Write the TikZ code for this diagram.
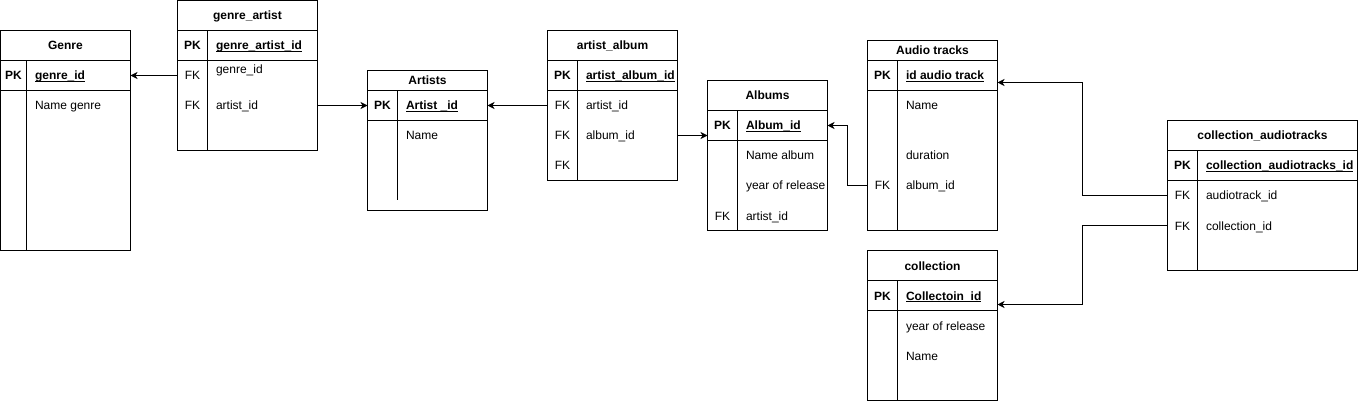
\documentclass[tikz,border=0pt]{standalone}
\usepackage{fontspec}
\setmainfont{Liberation Sans}
\usetikzlibrary{arrows.meta, positioning, calc}
\newcommand{\keyname}[1]{\setbox0\hbox{\bfseries #1}\rlap{\rule[-1.8pt]{\wd0}{0.9pt}}\box0}
\tikzset{
    tbl/.style 2 args={rectangle, draw=black, line width=1pt, anchor=north west, inner sep=0pt, outer sep=0pt, minimum width=#1, minimum height=#2},
    ttl/.style={font=\fontsize{12}{14}\selectfont\bfseries, inner sep=0pt, text height=9pt, text depth=0pt},
    kcol/.style={font=\fontsize{12}{14}\selectfont, inner sep=0pt, text height=9pt, text depth=0pt},
    fld/.style={font=\fontsize{12}{14}\selectfont, anchor=west, inner sep=0pt, text height=9pt, text depth=0pt},
    rel/.style={-{Stealth[length=7pt, width=7pt, inset=2pt]}, line width=1pt},
}
\begin{document}
\begin{tikzpicture}[x=1pt, y=-1pt, line width=1pt]
    \useasboundingbox (-0.5,-0.5) rectangle (1357.5,400.5);

    % Genre
    \node[tbl={130pt}{220pt}] (genre) at (0,30) {};
    \draw (0,60) -- (130,60) (0,90) -- (130,90) (26,60) -- (26,250);
    \node[ttl] (genre-t) at (65,45) {Genre};
    \node[kcol, font=\fontsize{12}{14}\selectfont\bfseries] (gpk) at (13,75) {PK};
    \node[fld] (gid) at (34,75) {\keyname{genre\_id}};
    \node[fld] (gname) at (34,105) {Name genre};

    % genre_artist
    \node[tbl={140pt}{150pt}] (ga) at (177,0) {};
    \draw (177,30) -- (317,30) (177,60) -- (317,60) (207,30) -- (207,150);
    \node[ttl] (ga-t) at (247,15) {genre\_artist};
    \node[kcol, font=\fontsize{12}{14}\selectfont\bfseries] (gapk) at (192,45) {PK};
    \node[fld] (gaid) at (215,45) {\keyname{genre\_artist\_id}};
    \node[kcol] (gak1) at (192,75) {FK};
    \node[fld] (gaf1) at (215,69) {genre\_id};
    \node[kcol] (gak2) at (192,105) {FK};
    \node[fld] (gaf2) at (215,105) {artist\_id};

    % Artists
    \node[tbl={120pt}{140pt}] (artists) at (367,70) {};
    \draw (367,90) -- (487,90) (367,120) -- (487,120) (397,90) -- (397,200);
    \node[ttl] (ar-t) at (427,80) {Artists};
    \node[kcol, font=\fontsize{12}{14}\selectfont\bfseries] (arpk) at (382,105) {PK};
    \node[fld] (arid) at (405,105) {\keyname{Artist \_id}};
    \node[fld] (arname) at (405,135) {Name};

    % artist_album
    \node[tbl={130pt}{150pt}] (aa) at (547,30) {};
    \draw (547,60) -- (677,60) (547,90) -- (677,90) (577,60) -- (577,180);
    \node[ttl] (aa-t) at (612,45) {artist\_album};
    \node[kcol, font=\fontsize{12}{14}\selectfont\bfseries] (aapk) at (562,75) {PK};
    \node[fld] (aaid) at (585,75) {\keyname{artist\_album\_id}};
    \node[kcol] (aak1) at (562,105) {FK};
    \node[fld] (aaf1) at (585,105) {artist\_id};
    \node[kcol] (aak2) at (562,135) {FK};
    \node[fld] (aaf2) at (585,135) {album\_id};
    \node[kcol] (aak3) at (562,165) {FK};

    % Albums
    \node[tbl={120pt}{150pt}] (albums) at (707,80) {};
    \draw (707,110) -- (827,110) (707,140) -- (827,140) (737,110) -- (737,230);
    \node[ttl] (al-t) at (767,95) {Albums};
    \node[kcol, font=\fontsize{12}{14}\selectfont\bfseries] (alpk) at (722,125) {PK};
    \node[fld] (alid) at (745,125) {\keyname{Album\_id}};
    \node[fld] (alname) at (745,155) {Name album};
    \node[fld] (alyear) at (745,185) {year of release};
    \node[kcol] (alk1) at (722,215) {FK};
    \node[fld] (alf1) at (745,215) {artist\_id};

    % Audio tracks
    \node[tbl={130pt}{190pt}] (tracks) at (867,40) {};
    \draw (867,60) -- (997,60) (867,90) -- (997,90) (897,60) -- (897,230);
    \node[ttl] (tr-t) at (932,50) {Audio tracks};
    \node[kcol, font=\fontsize{12}{14}\selectfont\bfseries] (trpk) at (882,75) {PK};
    \node[fld] (trid) at (905,75) {\keyname{id audio track}};
    \node[fld] (trname) at (905,105) {Name};
    \node[fld] (trdur) at (905,155) {duration};
    \node[kcol] (trk1) at (882,185) {FK};
    \node[fld] (trf1) at (905,185) {album\_id};

    % collection
    \node[tbl={130pt}{150pt}] (coll) at (867,250) {};
    \draw (867,280) -- (997,280) (867,310) -- (997,310) (897,280) -- (897,400);
    \node[ttl] (cl-t) at (932,265) {collection};
    \node[kcol, font=\fontsize{12}{14}\selectfont\bfseries] (clpk) at (882,295) {PK};
    \node[fld] (clid) at (905,295) {\keyname{Collectoin\_id}};
    \node[fld] (clyear) at (905,325) {year of release};
    \node[fld] (clname) at (905,355) {Name};

    % collection_audiotracks
    \node[tbl={190pt}{150pt}] (ca) at (1167,120) {};
    \draw (1167,150) -- (1357,150) (1167,180) -- (1357,180) (1197,150) -- (1197,270);
    \node[ttl] (ca-t) at (1262,135) {collection\_audiotracks};
    \node[kcol, font=\fontsize{12}{14}\selectfont\bfseries] (capk) at (1182,165) {PK};
    \node[fld] (caid) at (1205,165) {\keyname{collection\_audiotracks\_id}};
    \node[kcol] (cak1) at (1182,195) {FK};
    \node[fld] (caf1) at (1205,195) {audiotrack\_id};
    \node[kcol] (cak2) at (1182,225) {FK};
    \node[fld] (caf2) at (1205,225) {collection\_id};

    % relations
    \draw[rel] (ga.west |- gak1) -- (genre.east |- gpk);
    \draw[rel] (ga.east |- gak2) -- (artists.west |- arpk);
    \draw[rel] (aa.west |- aak1) -- (artists.east |- arpk);
    \draw[rel] (aa.east |- aak2) -- (albums.west |- aak2);
    \draw[rel] (tracks.west |- trk1) -- ++(-20,0) |- (albums.east |- alpk);
    \draw[rel] (ca.west |- cak1) -- ++(-85,0) |- ($(tracks.east |- trpk)+(0,7)$);
    \draw[rel] (ca.west |- cak2) -- ++(-85,0) |- ($(coll.east |- clpk)+(0,9)$);
\end{tikzpicture}
\end{document}
